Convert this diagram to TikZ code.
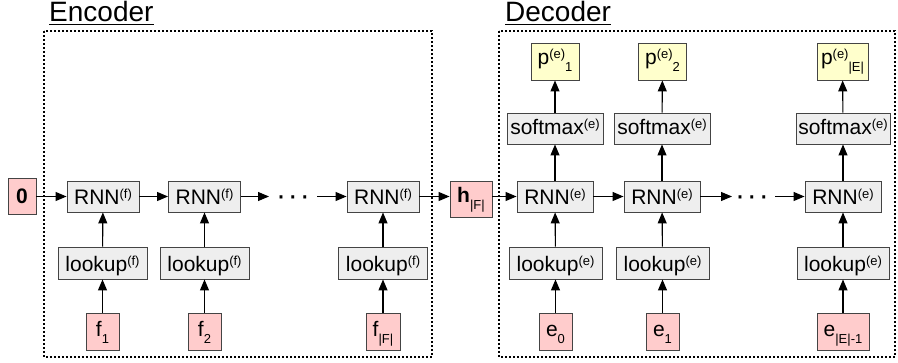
\documentclass[tikz,border=0pt]{standalone}
\usepackage{fontspec}
\setmainfont{Liberation Sans}
\usetikzlibrary{arrows.meta}
\definecolor{pinkc}{HTML}{FFCCCC}
\definecolor{greyc}{HTML}{EEEEEE}
\definecolor{yellowc}{HTML}{FFFFCC}
\definecolor{edgec}{HTML}{444444}
\newcommand{\mysup}[1]{\raisebox{6pt}{\fontsize{13}{13}\selectfont #1}}
\newcommand{\mysub}[1]{\raisebox{-7pt}{\fontsize{13}{13}\selectfont #1}}
\tikzset{
  basebox/.style={draw=edgec, line width=0.9pt, inner sep=0pt, anchor=center,
    font=\fontsize{21}{21}\selectfont},
  rnnbox/.style={basebox, fill=greyc, minimum width=72pt, minimum height=31pt, text height=17pt, text depth=0pt},
  lookbox/.style={basebox, fill=greyc, minimum width=89pt, minimum height=32pt, text height=17pt, text depth=0pt},
  softbox/.style={basebox, fill=greyc, minimum width=96pt, minimum height=31pt, text height=15pt, text depth=2pt},
  inbox/.style={basebox, fill=pinkc, minimum width=33pt, minimum height=37pt, text height=16pt, text depth=6pt},
  outbox/.style={basebox, fill=yellowc, minimum width=48pt, minimum height=37pt, text height=16pt, text depth=9pt},
  hbox/.style={basebox, fill=pinkc, minimum width=42pt, minimum height=36pt, text height=15pt, text depth=7pt},
  arr/.style={-{Triangle[length=11pt,width=9pt]}, line width=1.1pt},
  framebox/.style={dash pattern=on 2pt off 2pt, line width=1.3pt},
  titletext/.style={inner sep=0pt, anchor=base west, font=\fontsize{28}{28}\selectfont},
  dotstext/.style={inner sep=0pt, anchor=base, font=\fontsize{30}{30}\selectfont}
}
\begin{document}
\begin{tikzpicture}[x=1pt,y=1pt]
\useasboundingbox (0,0) rectangle (898,362);
% frames
\draw[framebox] (44,331) rectangle (432,5);
\draw[framebox] (499,331) rectangle (895,5);
\node[titletext] (enct) at (49,340) {Encoder};
\node[titletext] (dect) at (505,340) {Decoder};
\draw[line width=1.3pt] ([yshift=-2.5pt]enct.base west) -- ([yshift=-2.5pt]enct.base east);
\draw[line width=1.3pt] ([yshift=-2.5pt]dect.base west) -- ([yshift=-2.5pt]dect.base east);
% encoder
\node[basebox, fill=pinkc, minimum width=28pt, minimum height=36pt, text height=15pt, text depth=0pt, font=\fontsize{21}{21}\selectfont\bfseries] (zero) at (22,166) {0};
\node[rnnbox] (rf1) at (103,165.5) {RNN\mysup{(f)}};
\node[rnnbox] (rf2) at (204.5,165.5) {RNN\mysup{(f)}};
\node[rnnbox] (rf3) at (383,165.5) {RNN\mysup{(f)}};
\node[lookbox] (lf1) at (102.5,99) {lookup\mysup{(f)}};
\node[lookbox] (lf2) at (204.5,99) {lookup\mysup{(f)}};
\node[lookbox] (lf3) at (383,99) {lookup\mysup{(f)}};
\node[inbox] (f1) at (102.5,30.5) {f\mysub{1}};
\node[inbox] (f2) at (204.5,30.5) {f\mysub{2}};
\node[inbox, minimum width=34pt] (f3) at (383,30.5) {f\mysub{|F|}};
\node[dotstext] (dots1) at (293,156) {·\hspace{2pt}·\hspace{2pt}·};
\coordinate (da) at (269,165.5);
\coordinate (db) at (317,165.5);
% hidden
\node[hbox] (h) at (471,163) {\textbf{h}\mysub{|F|}};
% decoder
\node[rnnbox, minimum width=76pt] (re1) at (555,165.5) {RNN\mysup{(e)}};
\node[rnnbox, minimum width=76pt] (re2) at (662,165.5) {RNN\mysup{(e)}};
\node[rnnbox, minimum width=76pt] (re3) at (843,165.5) {RNN\mysup{(e)}};
\node[lookbox, minimum width=93pt] (le1) at (555.5,99) {lookup\mysup{(e)}};
\node[lookbox, minimum width=93pt] (le2) at (662.5,99) {lookup\mysup{(e)}};
\node[lookbox, minimum width=92pt] (le3) at (843,99) {lookup\mysup{(e)}};
\node[inbox] (e0) at (555.5,30.5) {e\mysub{0}};
\node[inbox] (e1) at (662.5,30.5) {e\mysub{1}};
\node[inbox, minimum width=52pt] (e3) at (843,30.5) {e\mysub{|E|-1}};
\node[softbox] (s1) at (555,233.5) {softmax\mysup{(e)}};
\node[softbox] (s2) at (662,233.5) {softmax\mysup{(e)}};
\node[softbox, minimum width=94pt] (s3) at (843,233.5) {softmax\mysup{(e)}};
\node[outbox] (p1) at (555,300.5) {p\mysup{(e)}\mysub{1}};
\node[outbox] (p2) at (662.5,300.5) {p\mysup{(e)}\mysub{2}};
\node[outbox, minimum width=51pt] (p3) at (842.5,300.5) {p\mysup{(e)}\mysub{|E|}};
\node[dotstext] (dots2) at (752,156) {·\hspace{2pt}·\hspace{2pt}·};
\coordinate (dc) at (732,165.5);
\coordinate (dd) at (775,165.5);
% connectors
\draw[arr] (zero.east |- rf1.west) -- (rf1.west);
\draw[arr] (rf1) -- (rf2);
\draw[arr] (rf2.east) -- (da);
\draw[arr] (db) -- (rf3.west);
\draw[arr] (rf3.east) -- (rf3.east -| h.west);
\draw[arr] (h.east |- re1.west) -- (re1.west);
\draw[arr] (re1) -- (re2);
\draw[arr] (re2.east) -- (dc);
\draw[arr] (dd) -- (re3.west);
\foreach \a/\b in {f1/lf1, f2/lf2, f3/lf3, lf1/rf1, lf2/rf2, lf3/rf3,
  e0/le1, e1/le2, e3/le3, le1/re1, le2/re2, le3/re3,
  re1/s1, re2/s2, re3/s3, s1/p1, s2/p2, s3/p3}
  \draw[arr] (\a) -- (\b);
\end{tikzpicture}
\end{document}
